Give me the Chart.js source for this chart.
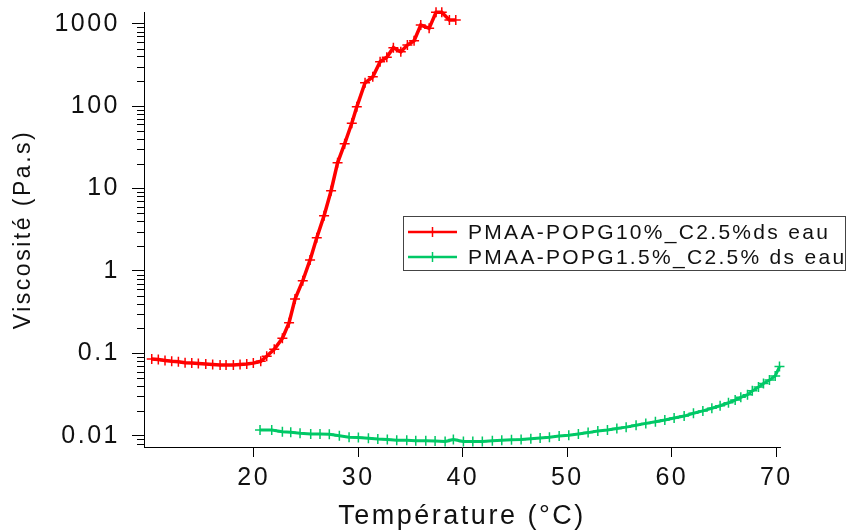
<!DOCTYPE html>
<html>
<head>
<meta charset="utf-8">
<title>Viscosité vs Température</title>
<script src="https://cdn.jsdelivr.net/npm/chart.js@4/dist/chart.umd.min.js"></script>
<style>
  html, body { margin: 0; padding: 0; background: #fff; }
  canvas { display: block; }
</style>
</head>
<body>
<canvas id="viscoChart" width="847" height="531"></canvas>
<script>
// --- Data ---
const redLabel = 'PMAA-POPG10%_C2.5%ds eau';
const redTemp = [10.24, 10.87, 11.51, 12.15, 12.79, 13.43, 14.07, 14.70, 15.41, 16.07,
  16.78, 17.35, 18.05, 18.69, 19.33, 19.96, 20.67, 21.24, 21.96, 22.74,
  23.38, 23.95, 24.69, 25.39, 26.03, 26.73, 27.40, 28.02, 28.70, 29.38,
  29.86, 30.65, 31.39, 32.09, 32.73, 33.36, 34.07, 34.70, 35.34, 35.98,
  36.78, 37.44, 37.99, 38.72, 39.33];
const redVisc = [0.085, 0.084, 0.082, 0.080, 0.079, 0.077, 0.076, 0.075, 0.074, 0.073,
  0.072, 0.072, 0.072, 0.073, 0.074, 0.076, 0.080, 0.092, 0.112, 0.152,
  0.235, 0.456, 0.76, 1.36, 2.53, 4.68, 9.4, 20.5, 35, 62,
  98, 192, 227, 346, 391, 512, 457, 551, 622, 964,
  879, 1375, 1375, 1109, 1109];

const greenLabel = 'PMAA-POPG1.5%_C2.5% ds eau';
const greenTemp = [20.6, 21.72, 22.74, 23.54, 24.43, 25.45, 26.34, 27.23, 28.19, 29.12,
  30.01, 30.97, 31.87, 32.78, 33.68, 34.64, 35.5, 36.46, 37.35, 38.31,
  39.1, 40.06, 40.96, 41.87, 42.83, 43.73, 44.66, 45.58, 46.51, 47.40,
  48.29, 49.22, 50.14, 51.06, 51.99, 52.92, 53.84, 54.74, 55.63, 56.58,
  57.51, 58.43, 59.33, 60.22, 61.18, 62.07, 62.97, 63.83, 64.62, 65.42,
  66.06, 66.6, 67.24, 67.7, 68.29, 68.77, 69.34, 69.89, 70.3];
const greenVisc = [0.0117, 0.0117, 0.0112, 0.0110, 0.0107, 0.0105, 0.0105, 0.0104, 0.0100, 0.0096,
  0.0095, 0.0093, 0.0091, 0.0090, 0.0088, 0.0088, 0.0087, 0.0087, 0.0086, 0.0085,
  0.0090, 0.0085, 0.0085, 0.0085, 0.0087, 0.0088, 0.0089, 0.0090, 0.0092, 0.0094,
  0.0096, 0.0099, 0.0101, 0.0105, 0.0109, 0.0114, 0.0117, 0.0122, 0.0127, 0.0134,
  0.0141, 0.0148, 0.0155, 0.0164, 0.0173, 0.0187, 0.0200, 0.0215, 0.0231, 0.0251,
  0.0271, 0.0292, 0.0315, 0.0350, 0.0390, 0.0430, 0.0474, 0.0530, 0.0690];

const xTickValues = [20, 30, 40, 50, 60, 70];
const xTickLabels = ['20', '30', '40', '50', '60', '70'];
const yTickValues = [0.01, 0.1, 1, 10, 100, 1000];
const yTickLabels = ['0.01', '0.1', '1', '10', '100', '1000'];

// --- Look ---
const COLORS = { red: '#ff0000', green: '#00c866', ink: '#111111', axis: '#000000' };
const FONT = '"Liberation Sans", Arial, Helvetica, sans-serif';

const toPoints = (xs, ys) => xs.map((x, i) => ({ x: x, y: ys[i] }));

// wide letter spacing like the original software output
const spacing = {
  id: 'spacing',
  beforeDraw(chart) { chart.ctx.letterSpacing = '2.5px'; }
};

// short minor ticks on the log axis (2..9 x 10^n)
const minorTicks = {
  id: 'minorTicks',
  afterDraw(chart) {
    const s = chart.scales.y;
    const ctx = chart.ctx;
    ctx.save();
    ctx.strokeStyle = COLORS.axis;
    ctx.lineWidth = 1;
    ctx.beginPath();
    for (let e = -3; e <= 3; e++) {
      for (let k = 2; k <= 9; k++) {
        const v = k * Math.pow(10, e);
        if (v < s.min || v > s.max) continue;
        const py = Math.round(s.getPixelForValue(v)) + 0.5;
        ctx.moveTo(s.right - 7, py);
        ctx.lineTo(s.right, py);
      }
    }
    ctx.stroke();
    ctx.restore();
  }
};

// boxed legend sitting inside the plot
const boxLegend = {
  id: 'boxLegend',
  afterDraw(chart) {
    const ctx = chart.ctx;
    ctx.save();
    ctx.letterSpacing = '2.3px';
    ctx.strokeStyle = '#444';
    ctx.lineWidth = 1;
    ctx.strokeRect(403.5, 216.5, 442, 54);
    ctx.font = '21px ' + FONT;
    ctx.textBaseline = 'middle';
    chart.data.datasets.forEach((ds, i) => {
      const y = 232 + i * 25;
      ctx.strokeStyle = ds.borderColor;
      ctx.lineWidth = 2.5;
      ctx.beginPath();
      ctx.moveTo(408, y);
      ctx.lineTo(457, y);
      ctx.stroke();
      ctx.lineWidth = 1.5;
      ctx.beginPath();
      ctx.moveTo(432.5, y - 5);
      ctx.lineTo(432.5, y + 5);
      ctx.stroke();
      ctx.fillStyle = COLORS.ink;
      ctx.fillText(ds.label, 468, y + 1);
    });
    ctx.restore();
  }
};

new Chart(document.getElementById('viscoChart'), {
  type: 'line',
  data: {
    datasets: [
      {
        label: redLabel,
        data: toPoints(redTemp, redVisc),
        borderColor: COLORS.red,
        backgroundColor: COLORS.red,
        borderWidth: 3.5,
        pointStyle: 'cross',
        pointRadius: 5,
        pointBorderWidth: 1.5,
        tension: 0,
        clip: false
      },
      {
        label: greenLabel,
        data: toPoints(greenTemp, greenVisc),
        borderColor: COLORS.green,
        backgroundColor: COLORS.green,
        borderWidth: 3,
        pointStyle: 'cross',
        pointRadius: 5,
        pointBorderWidth: 1.5,
        tension: 0,
        clip: false
      }
    ]
  },
  options: {
    responsive: false,
    animation: false,
    devicePixelRatio: 1,
    layout: { padding: { top: 12, right: 67, left: 0, bottom: 0 } },
    plugins: { legend: { display: false }, tooltip: { enabled: false } },
    scales: {
      x: {
        type: 'linear',
        min: 9.5,
        max: 70.35,
        afterBuildTicks: (scale) => { scale.ticks = xTickValues.map(v => ({ value: v })); },
        afterFit: (scale) => {
          scale.height = 84;
          scale.paddingLeft = 0;
          scale.paddingRight = 0;
        },
        ticks: {
          autoSkip: false,
          maxRotation: 0,
          padding: 6,
          color: COLORS.ink,
          font: { family: FONT, size: 25 },
          callback: (v, i) => xTickLabels[i]
        },
        grid: { drawOnChartArea: false, drawTicks: true, tickLength: 10, tickColor: COLORS.axis, tickWidth: 1 },
        border: { display: true, color: COLORS.axis, width: 1 },
        title: {
          display: true,
          text: 'Température (°C)',
          color: COLORS.ink,
          font: { family: FONT, size: 27 },
          padding: { top: 0, bottom: -2 }
        }
      },
      y: {
        type: 'logarithmic',
        min: 0.00729,
        max: 1387,
        afterBuildTicks: (scale) => { scale.ticks = yTickValues.map(v => ({ value: v })); },
        afterFit: (scale) => {
          scale.width = 144;
          scale.paddingTop = 0;
          scale.paddingBottom = 0;
        },
        ticks: {
          autoSkip: false,
          padding: 12,
          color: COLORS.ink,
          font: { family: FONT, size: 25 },
          callback: (v, i) => yTickLabels[i]
        },
        grid: { drawOnChartArea: false, drawTicks: true, tickLength: 12, tickColor: COLORS.axis, tickWidth: 1 },
        border: { display: true, color: COLORS.axis, width: 1 },
        title: {
          display: true,
          text: 'Viscosité (Pa.s)',
          color: COLORS.ink,
          font: { family: FONT, size: 23 },
          padding: { top: 10, bottom: 0 }
        }
      }
    }
  },
  plugins: [spacing, minorTicks, boxLegend]
});
</script>
</body>
</html>
